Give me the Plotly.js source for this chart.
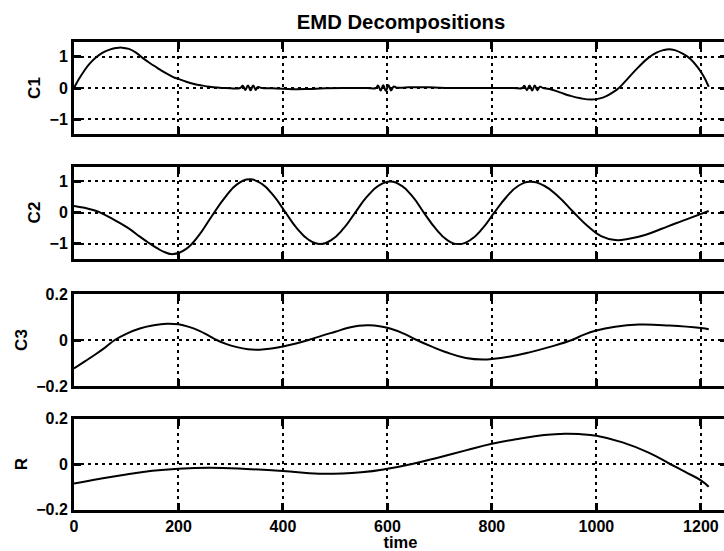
<!DOCTYPE html>
<html>
<head>
<meta charset="utf-8">
<script src="https://cdn.plot.ly/plotly-3.0.1.min.js"></script>
<style>
html,body{margin:0;padding:0;background:#fff;overflow:hidden;width:724px;height:551px;}
#chart{width:740px;height:551px;}
</style>
</head>
<body>
<div id="chart"></div>
<script>
// ---- data ----
const chartTitle = 'EMD Decompositions';
const panelNames = ['C1', 'C2', 'C3', 'R'];
const xTickVals = [0, 200, 400, 600, 800, 1000, 1200];
const yTicksBig = [-1, 0, 1];
const yTicksSmall = [-0.2, 0, 0.2];

const tC1 = [0, 10, 20, 30, 43, 55, 67, 80, 92, 105, 118, 130, 145, 158, 175, 190, 200, 215, 230, 245, 260, 275, 290, 318,
  323, 328, 333, 338, 343, 348, 352, 360, 380, 400, 425, 450, 480, 520, 560, 578,
  582, 587, 592, 597, 602, 607, 612, 618, 640, 680, 720, 760, 800, 840, 858,
  862, 867, 872, 877, 882, 887, 892, 898, 910, 930, 950, 970, 990, 1005, 1020, 1032, 1043,
  1060, 1080, 1100, 1115, 1128, 1139, 1150, 1165, 1180, 1193, 1205, 1215];
const c1 = [0, 0.3, 0.56, 0.78, 0.99, 1.13, 1.22, 1.275, 1.29, 1.25, 1.14, 0.98, 0.8, 0.66, 0.48, 0.35, 0.29, 0.2, 0.13, 0.08, 0.04, 0.015, 0.0, 0.0,
  0.07, -0.06, 0.08, -0.07, 0.08, -0.06, 0.03, 0.0, -0.01, -0.02, -0.04, -0.03, -0.01, 0.0, 0.0, 0.0,
  0.08, -0.08, 0.09, -0.09, 0.09, -0.08, 0.05, 0.01, 0.02, 0.02, 0.0, 0.0, 0.0, 0.0, 0.0,
  0.07, -0.07, 0.08, -0.08, 0.08, -0.07, 0.04, 0.0, -0.03, -0.14, -0.25, -0.33, -0.37, -0.34, -0.25, -0.13, 0.0,
  0.3, 0.66, 0.97, 1.13, 1.21, 1.24, 1.21, 1.1, 0.93, 0.68, 0.38, 0.04];

const tC2 = [0, 20, 43, 62, 82, 104, 126, 142, 158, 174, 190, 214, 239, 263, 288, 312, 337,
  359, 382, 404, 426, 449, 471, 493, 516, 538, 560, 583, 605, 627, 649, 670, 692, 714, 736,
  759, 782, 804, 827, 850, 873, 900, 927, 954, 982, 1009, 1036, 1060, 1093, 1125, 1151, 1180, 1215];
const c2 = [0.21, 0.15, 0.05, -0.1, -0.28, -0.5, -0.77, -0.96, -1.13, -1.27, -1.33, -1.17, -0.73, -0.135, 0.46, 0.9, 1.06,
  0.92, 0.54, 0.025, -0.49, -0.87, -1.01, -0.876, -0.51, -0.01, 0.49, 0.856, 0.99, 0.856, 0.49, -0.01, -0.51, -0.876, -1.01,
  -0.877, -0.51, -0.015, 0.48, 0.847, 0.98, 0.855, 0.515, 0.05, -0.415, -0.755, -0.88, -0.85, -0.72, -0.52, -0.35, -0.17, 0.05];

const tC3 = [0, 20, 40, 60, 78, 100, 126, 150, 178, 200, 220, 240, 257, 273, 292, 310, 333, 356, 378, 400, 425, 449,
  475, 500, 525, 545, 565, 585, 605, 630, 656, 684, 711, 750, 785, 800, 835, 870, 911, 953, 975, 998, 1036, 1081, 1140, 1200, 1215];
const c3 = [-0.124, -0.094, -0.064, -0.032, 0.0, 0.027, 0.05, 0.063, 0.071, 0.068, 0.057, 0.04, 0.02, 0.0, -0.018, -0.03, -0.04, -0.042, -0.037, -0.028, -0.015, 0.0,
  0.019, 0.036, 0.053, 0.062, 0.064, 0.06, 0.05, 0.029, 0.0, -0.028, -0.052, -0.078, -0.085, -0.083, -0.072, -0.055, -0.03, 0.0, 0.022, 0.04, 0.058, 0.067, 0.063, 0.052, 0.047];

const tR = [0, 50, 100, 150, 200, 260, 330, 400, 470, 550, 600, 647, 700, 750, 800, 850, 900, 940, 970, 1000,
  1050, 1100, 1141, 1170, 1200, 1215];
const r = [-0.086, -0.065, -0.046, -0.03, -0.021, -0.017, -0.022, -0.031, -0.043, -0.036, -0.021, 0.0, 0.03, 0.06, 0.089, 0.11, 0.127, 0.133, 0.131, 0.124,
  0.095, 0.05, 0.0, -0.035, -0.072, -0.1];

// ---- layout / styling ----
const W = 740, H = 551;
const fontFam = 'Liberation Sans, Arial, Helvetica, sans-serif';
const lineStyle = {color: '#000', width: 2, shape: 'spline', smoothing: 1.3, simplify: false};

const traces = [
  {x: tC1, y: c1, xaxis: 'x', yaxis: 'y'},
  {x: tC2, y: c2, xaxis: 'x2', yaxis: 'y2'},
  {x: tC3, y: c3, xaxis: 'x3', yaxis: 'y3'},
  {x: tR, y: r, xaxis: 'x4', yaxis: 'y4'}
].map(t => Object.assign({type: 'scatter', mode: 'lines', line: lineStyle, hoverinfo: 'skip', showlegend: false}, t));

// panel pixel extents (top, bottom)
const panelPx = [[42, 134], [166.5, 258.5], [294, 386], [418.5, 509.5]];
const xDom = [74 / W, 727 / W];
const yRanges = [[-1.47, 1.47], [-1.47, 1.47], [-0.2, 0.2], [-0.2, 0.2]];
const yTickSets = [yTicksBig, yTicksBig, yTicksSmall, yTicksSmall];

const tickFont = {family: fontFam, size: 16, color: '#000', weight: 'bold'};
const gridDash = '3px,4px';

const layout = {
  width: W, height: H,
  margin: {l: 0, r: 0, t: 0, b: 0},
  paper_bgcolor: '#fff', plot_bgcolor: '#fff',
  showlegend: false,
  title: {text: '<b>' + chartTitle + '</b>', x: 401 / W, xanchor: 'center', y: 1 - 22 / H, yanchor: 'middle',
          yref: 'container', xref: 'container', font: {family: fontFam, size: 20.3, color: '#000'}}
};

for (let i = 0; i < 4; i++) {
  const s = i === 0 ? '' : String(i + 1);
  const [top, bot] = panelPx[i];
  layout['xaxis' + s] = {
    domain: xDom, range: [0, 1250], anchor: 'y' + s,
    tickmode: 'array', tickvals: xTickVals,
    showticklabels: i === 3, tickfont: tickFont,
    ticks: 'inside', ticklen: 7, tickwidth: 3, tickcolor: '#000',
    showline: true, linecolor: '#000', linewidth: 3, mirror: 'ticks',
    showgrid: true, gridcolor: '#000', gridwidth: 2, griddash: gridDash,
    zeroline: false, fixedrange: true,
    title: i === 3 ? {text: '<b>time</b>', font: {family: fontFam, size: 16.5, color: '#000'}, standoff: 3} : {text: ''}
  };
  layout['yaxis' + s] = {
    domain: [1 - bot / H, 1 - top / H], range: yRanges[i], anchor: 'x' + s,
    tickmode: 'array', tickvals: yTickSets[i], tickfont: tickFont,
    ticks: 'inside', ticklen: 7, tickwidth: 3, tickcolor: '#000',
    showline: true, linecolor: '#000', linewidth: 3, mirror: 'ticks',
    showgrid: true, gridcolor: '#000', gridwidth: 2, griddash: gridDash,
    zeroline: false, fixedrange: true,
    title: {text: '<b>' + panelNames[i] + '</b>', font: {family: fontFam, size: 17, color: '#000'}, standoff: 5}
  };
}

Plotly.newPlot('chart', traces, layout, {staticPlot: true, displayModeBar: false});
</script>
</body>
</html>
